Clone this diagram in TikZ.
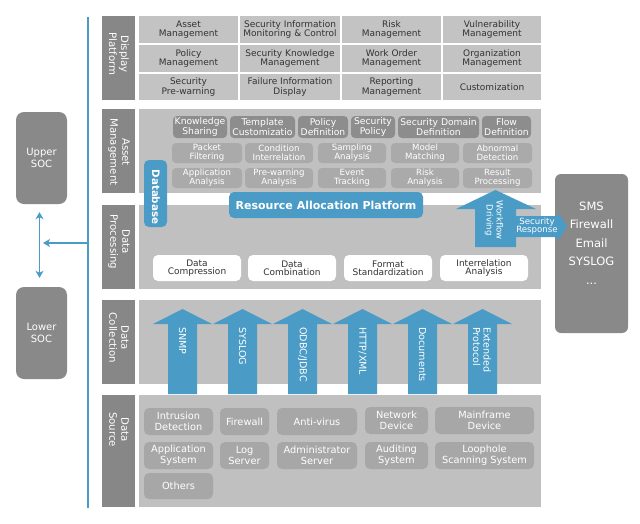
\documentclass[tikz,border=0pt]{standalone}
\usepackage{fontspec}
\setmainfont{DejaVu Sans}
\usetikzlibrary{arrows.meta}
\definecolor{barGray}{HTML}{878787}
\definecolor{bgGray}{HTML}{C0C0C0}
\definecolor{cellGray}{HTML}{C3C3C3}
\definecolor{darkBox}{HTML}{8D8D8D}
\definecolor{midBox}{HTML}{AAAAAA}
\definecolor{srcBox}{HTML}{A7A7A7}
\definecolor{myblue}{HTML}{4A9BC6}
\definecolor{txtDark}{HTML}{333333}
\definecolor{socGray}{HTML}{898989}
\begin{document}
\begin{tikzpicture}[x=1pt,y=-1pt,
  bar/.style={fill=barGray,draw=none},
  panel/.style={fill=bgGray,draw=none},
  barlabel/.style={rotate=-90,text=white,font=\fontsize{10.2}{12}\selectfont,align=center,inner sep=0},
  cell/.style={fill=cellGray,inner sep=0,text=txtDark,font=\fontsize{9}{9.3}\selectfont,align=center},
  aboxA/.style={fill=darkBox,rounded corners=4pt,text=white,font=\fontsize{9.2}{9.4}\selectfont,align=center,inner sep=0},
  aboxB/.style={fill=midBox,rounded corners=4pt,text=white,font=\fontsize{8.6}{9}\selectfont,align=center,inner sep=0},
  pbox/.style={fill=white,rounded corners=5pt,text=txtDark,font=\fontsize{9}{8.2}\selectfont,align=center,inner sep=0,minimum width=88pt,minimum height=26pt},
  sbox/.style={fill=srcBox,rounded corners=5pt,text=white,font=\fontsize{9.8}{11}\selectfont,align=center,inner sep=0},
  blueshape/.style={fill=myblue,draw=none},
  arrowtext/.style={rotate=-90,anchor=west,text=white,font=\fontsize{9.6}{10.5}\selectfont,inner sep=0,align=left},
  soc/.style={fill=socGray,rounded corners=8pt,text=white,font=\fontsize{10}{12}\selectfont,align=center,minimum width=51pt,minimum height=92pt,inner sep=0},
  link/.style={draw=myblue,line width=1.4pt},
  tipstyle/.style={-{Stealth[length=7pt,width=8pt,inset=2pt]}}
]
\useasboundingbox (0,0) rectangle (640,523);
\fill[white] (0,0) rectangle (640,523);

% blue vertical line
\coordinate (lt) at (88,17);
\coordinate (lb) at (88,508);
\draw[link] (lt) -- (lb);

% label bars
\fill[bar] (102,16) rectangle (135,100);
\fill[bar] (102,109) rectangle (135,193);
\fill[bar] (102,205) rectangle (135,289);
\fill[bar] (102,300) rectangle (135,384);
\fill[bar] (102,395) rectangle (135,507);
\node[barlabel] (lDP) at (119,54) {Display\\Platform};
\node[barlabel] (lAM) at (119,152) {Asset\\Management};
\node[barlabel] (lPR) at (119,242) {Data\\Processing};
\node[barlabel] (lCO) at (119,338) {Data\\Collection};
\node[barlabel,anchor=west] (lSO) at (119,412) {Data\\Source};

% panels
\fill[panel] (139,109) rectangle (541,193);
\fill[panel] (139,205) rectangle (541,289);
\fill[panel] (139,300) rectangle (541,384);
\fill[panel] (139,395) rectangle (541,507);

% display platform cells
\node[cell,minimum width=99pt,minimum height=27pt] (d11) at (188.5,29.5) {Asset\\Management};
\node[cell,minimum width=100pt,minimum height=27pt] (d12) at (290,29.5) {Security Information\\Monitoring \& Control};
\node[cell,minimum width=99pt,minimum height=27pt] (d13) at (391.5,29.5) {Risk\\Management};
\node[cell,minimum width=98pt,minimum height=27pt] (d14) at (492,29.5) {Vulnerability\\Management};
\node[cell,minimum width=99pt,minimum height=27pt] (d21) at (188.5,58.5) {Policy\\Management};
\node[cell,minimum width=100pt,minimum height=27pt] (d22) at (290,58.5) {Security Knowledge\\Management};
\node[cell,minimum width=99pt,minimum height=27pt] (d23) at (391.5,58.5) {Work Order\\Management};
\node[cell,minimum width=98pt,minimum height=27pt] (d24) at (492,58.5) {Organization\\Management};
\node[cell,minimum width=99pt,minimum height=26pt] (d31) at (188.5,87) {Security\\Pre-warning};
\node[cell,minimum width=100pt,minimum height=26pt] (d32) at (290,87) {Failure Information\\Display};
\node[cell,minimum width=99pt,minimum height=26pt] (d33) at (391.5,87) {Reporting\\Management};
\node[cell,minimum width=98pt,minimum height=26pt] (d34) at (492,87) {Customization};

% asset management row 1
\node[aboxA,minimum width=54pt,minimum height=22pt] (a11) at (200,127) {Knowledge\\Sharing};
\node[aboxA,minimum width=65pt,minimum height=22pt] (a12) at (262.5,127) {Template\\Customizatio};
\node[aboxA,minimum width=50pt,minimum height=22pt] (a13) at (323,127) {Policy\\Definition};
\node[aboxA,minimum width=44pt,minimum height=22pt] (a14) at (373,127) {Security\\Policy};
\node[aboxA,minimum width=81pt,minimum height=22pt] (a15) at (438.5,127) {Security Domain\\Definition};
\node[aboxA,minimum width=49pt,minimum height=22pt] (a16) at (506.5,127) {Flow\\Definition};
% row 2
\node[aboxB,minimum width=70pt,minimum height=20pt] (a21) at (207,153) {Packet\\Filtering};
\node[aboxB,minimum width=68pt,minimum height=20pt] (a22) at (279,153) {Condition\\Interrelation};
\node[aboxB,minimum width=68pt,minimum height=20pt] (a23) at (352,153) {Sampling\\Analysis};
\node[aboxB,minimum width=68pt,minimum height=20pt] (a24) at (425,153) {Model\\Matching};
\node[aboxB,minimum width=69pt,minimum height=20pt] (a25) at (497.5,153) {Abnormal\\Detection};
% row 3
\node[aboxB,minimum width=70pt,minimum height=20pt] (a31) at (207,178) {Application\\Analysis};
\node[aboxB,minimum width=68pt,minimum height=20pt] (a32) at (279,178) {Pre-warning\\Analysis};
\node[aboxB,minimum width=68pt,minimum height=20pt] (a33) at (352,178) {Event\\Tracking};
\node[aboxB,minimum width=68pt,minimum height=20pt] (a34) at (425,178) {Risk\\Analysis};
\node[aboxB,minimum width=69pt,minimum height=20pt] (a35) at (497.5,178) {Result\\Processing};

% data processing boxes
\node[pbox] (p1) at (197,268) {Data\\Compression};
\node[pbox] (p2) at (292,268) {Data\\Combination};
\node[pbox] (p3) at (388,268) {Format\\Standardization};
\node[pbox] (p4) at (484,268) {Interrelation\\Analysis};

% database and resource allocation
\node[blueshape,rounded corners=5pt,minimum width=23pt,minimum height=67pt,inner sep=0] (db) at (155.5,193.5) {};
\node[rotate=-90,text=white,font=\bfseries\fontsize{10.3}{12}\selectfont,inner sep=0] (dbt) at (156,197) {Database};
\node[blueshape,rounded corners=5pt,minimum width=194pt,minimum height=26pt,inner sep=0,text=white,font=\bfseries\fontsize{11}{13}\selectfont] (rap) at (326,205) {Resource Allocation Platform};

% workflow / security response arrow
\fill[blueshape] (475,247) -- (475,209) -- (456,209) -- (495.5,190) -- (536,209) -- (516,209)
  -- (516,216) -- (558,216) -- (558,212) -- (567,226.5) -- (558,241) -- (558,237) -- (516,237) -- (516,247) -- cycle;

% right box
\node[fill=socGray,rounded corners=6pt,minimum width=73pt,minimum height=159pt,inner sep=0] (out) at (591.5,253.5) {};
\fill[blueshape] (555,216) -- (558,216) -- (558,212) -- (567,226.5) -- (558,241) -- (558,237) -- (555,237) -- cycle;
\node[text=white,font=\fontsize{11.5}{18.5}\selectfont,align=center,inner sep=0] (outt) at (591.5,243) {SMS\\Firewall\\Email\\SYSLOG\\...};
\node[rotate=-90,text=white,font=\fontsize{8.6}{10}\selectfont,align=center,inner sep=0] (wf) at (494,220) {Workflow\\Driving};
\node[text=white,font=\fontsize{8.6}{8.6}\selectfont,align=center,inner sep=0] (sr) at (537,226) {Security\\Response};

% data collection arrows
\foreach \cx in {182.5,242.5,302.5,362.5,422.5,482.5}{
  \fill[blueshape] (\cx-14.5,394) -- (\cx-14.5,324) -- (\cx-29.5,324) -- (\cx,309) -- (\cx+29.5,324) -- (\cx+14.5,324) -- (\cx+14.5,394) -- cycle;
}
\node[arrowtext] (t1) at (182.5,327) {SNMP};
\node[arrowtext] (t2) at (242.5,327) {SYSLOG};
\node[arrowtext] (t3) at (302.5,327) {ODBC/JDBC};
\node[arrowtext] (t4) at (362.5,327) {HTTP/XML};
\node[arrowtext] (t5) at (422.5,327) {Documents};
\node[arrowtext] (t6) at (482,327) {Extended\\Protocol};

% data source boxes
\node[sbox,minimum width=69pt,minimum height=27pt] (s11) at (178.5,421.5) {Intrusion\\Detection};
\node[sbox,minimum width=49pt,minimum height=27pt] (s12) at (244.5,421.5) {Firewall};
\node[sbox,minimum width=80pt,minimum height=27pt] (s13) at (317,421.5) {Anti-virus};
\node[sbox,minimum width=63pt,minimum height=27pt] (s14) at (396.5,420.5) {Network\\Device};
\node[sbox,minimum width=99pt,minimum height=27pt] (s15) at (484.5,420.5) {Mainframe\\Device};
\node[sbox,minimum width=69pt,minimum height=27pt] (s21) at (178.5,455.5) {Application\\System};
\node[sbox,minimum width=49pt,minimum height=27pt] (s22) at (244.5,455.5) {Log\\Server};
\node[sbox,minimum width=80pt,minimum height=27pt] (s23) at (317,455.5) {Administrator\\Server};
\node[sbox,minimum width=63pt,minimum height=27pt] (s24) at (396.5,455.5) {Auditing\\System};
\node[sbox,minimum width=99pt,minimum height=27pt] (s25) at (484.5,455.5) {Loophole\\Scanning System};
\node[sbox,minimum width=69pt,minimum height=26pt] (s31) at (178.5,486) {Others};

% SOC boxes
\node[soc] (up) at (41.5,158) {Upper\\SOC};
\node[soc] (low) at (41.5,333) {Lower\\SOC};
\draw[link,line width=1.2pt,{Stealth[length=7pt,width=8pt,inset=2pt]}-{Stealth[length=7pt,width=8pt,inset=2pt]},shorten <=8pt,shorten >=9pt] ([xshift=-2pt]up.south) -- ([xshift=-2pt]low.north);
\coordinate (hl) at (88,243);
\coordinate (hr) at (43,243);
\draw[link,line width=1.2pt,tipstyle] (hl) -- (hr);
\end{tikzpicture}
\end{document}
